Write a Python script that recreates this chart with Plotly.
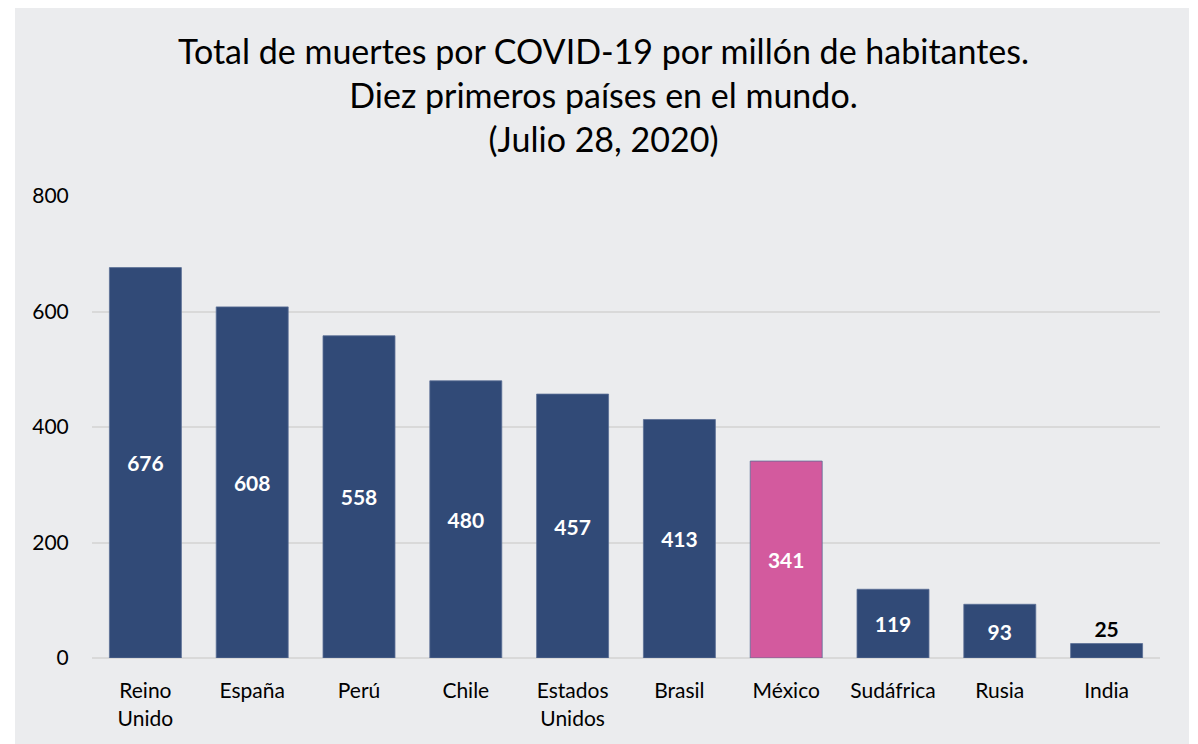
import plotly.graph_objects as go

paises = ["Reino<br>Unido", "España", "Perú", "Chile", "Estados<br>Unidos",
          "Brasil", "México", "Sudáfrica", "Rusia", "India"]
muertes = [676, 608, 558, 480, 457, 413, 341, 119, 93, 25]
y_ticks = [0, 200, 400, 600, 800]

AZUL = "#314A77"
ROSA = "#D35A9E"
FONT = "Lato"

colores = [ROSA if p == "México" else AZUL for p in paises]
posiciones = ["outside" if v < 50 else "inside" for v in muertes]
colores_texto = ["black" if v < 50 else "white" for v in muertes]

fig = go.Figure(go.Bar(
    x=paises, y=muertes,
    marker=dict(color=colores, line=dict(color="#5A6F96", width=0.8)),
    text=[str(v) for v in muertes],
    textposition=posiciones,
    insidetextanchor="middle",
    textfont=dict(family=FONT, size=21, color=colores_texto, weight="bold"),
    cliponaxis=False,
))

# page body has an 8px margin, so the figure is laid out 8px smaller
OFF = 8
W, H = 1198 - OFF, 744 - OFF
L, R, T, B = 92 - OFF, 38, 196 - OFF, 86
pw, ph = W - L - R, H - T - B
x0 = (15 - OFF - L) / pw
x1 = (1189 - OFF - L) / pw
y1 = (H - B + 2) / ph
y0 = (H - B - H - 2) / ph

title_cx = (603 - OFF - L) / pw
title_cy = (H - B - (95 - OFF)) / ph

fig.update_layout(
    width=W, height=H,
    margin=dict(l=L, r=R, t=T, b=B),
    paper_bgcolor="white",
    plot_bgcolor="rgba(0,0,0,0)",
    bargap=0.326,
    showlegend=False,
    annotations=[dict(
        text="Total de muertes por COVID-19 por millón de habitantes.<br>"
             "Diez primeros países en el mundo.<br>(Julio 28, 2020)",
        xref="paper", yref="paper", x=title_cx, y=title_cy,
        xanchor="center", yanchor="middle", showarrow=False,
        font=dict(family=FONT, size=34, color="black"),
    )],
    shapes=[dict(type="rect", xref="paper", yref="paper",
                 x0=x0, x1=x1, y0=y0, y1=y1,
                 fillcolor="#EBECEE", line=dict(width=0), layer="below")],
    xaxis=dict(
        tickfont=dict(family=FONT, size=21, color="black"),
        showgrid=False, showline=False,
        ticks="outside", ticklen=14, tickcolor="rgba(0,0,0,0)",
    ),
    yaxis=dict(
        range=[0, 800], tickvals=y_ticks,
        tickfont=dict(family=FONT, size=21, color="black"),
        showgrid=True, gridcolor="#D9D9D9", gridwidth=1.5,
        zeroline=True, zerolinecolor="#D9D9D9", zerolinewidth=1.5,
        ticks="outside", ticklen=18, tickcolor="rgba(0,0,0,0)",
        showline=False,
    ),
)

fig.write_html("out.html")
